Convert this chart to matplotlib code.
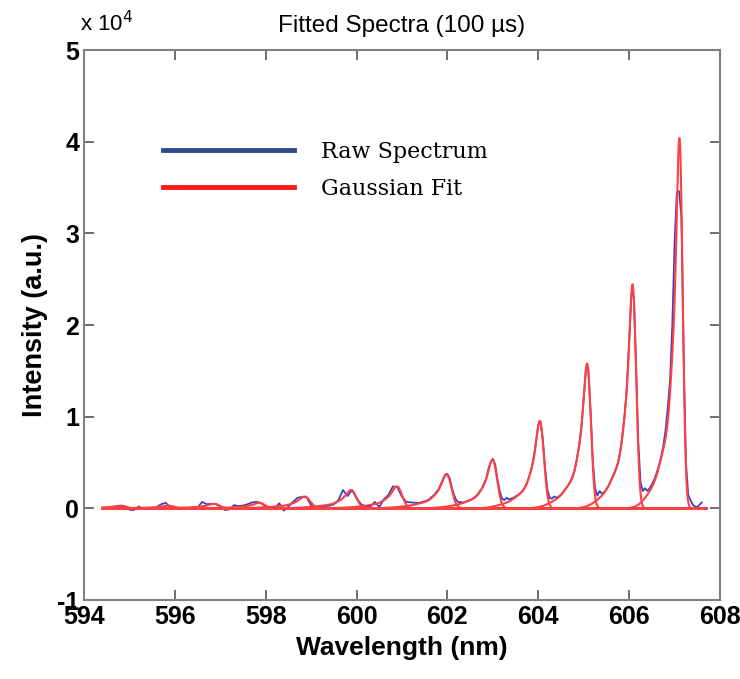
import numpy as np
import matplotlib
matplotlib.use("Agg")
import matplotlib.pyplot as plt
from matplotlib.lines import Line2D

# Gaussian fit: peak positions (nm), heights (counts) and relative widths
peak_centers = [594.82, 595.88, 596.88, 597.88, 598.88, 599.90, 600.91,
                602.00, 603.01, 604.05, 605.09, 606.09, 607.12]
peak_heights = [300, 300, 500, 600, 1300, 2000, 2400,
                3700, 5300, 9550, 15800, 24450, 40400]
peak_widths = [1.6, 1.6, 1.6, 1.6, 1.55, 1.5, 1.45, 1.4, 1.3, 1.15, 1.05, 1.0, 0.9]

# each peak is fitted with four gaussians (offset nm, sigma nm, relative amp)
comp_offsets = [0.0, -0.12, -0.30, -0.55]
comp_sigmas = [0.07, 0.10, 0.16, 0.25]
comp_amps = [0.80, 0.35, 0.134, 0.06]

# raw spectrum (counts), 0.1 nm steps from 594.4 to 601.4
raw_low = [0, 50, 80, 200, 280, 200, -150, -180, 200, -50,
           30, -60, 150, 450, 600, 100, -50, 40, -80, 0,
           150, 80, 700, 450, 500, 480, 200, -180, -120, 350,
           250, 300, 450, 650, 700, 600, 150, 50, 80, 550,
           -250, 200, 700, 1150, 1250, 1200, 300, 150, 250, 250,
           280, 450, 900, 2000, 1350, 2000, 1100, 450, 200, 180,
           700, 150, 1000, 1450, 2400, 2300, 1250, 700, 650, 600,
           620]
# raw spectrum (counts), 0.05 nm steps from 601.45 to 607.6
raw_high = [700, 780, 850, 1000, 1250, 1400, 1750, 2050, 2600, 3150,
            3700, 3750, 3300, 2200, 1400, 850, 650, 700, 600, 750,
            800, 950, 1000, 1250, 1400, 1800, 2100, 2650, 3200, 4250,
            5050, 5400, 4800, 3200, 1900, 1100, 900, 1150, 1000, 1050,
            1150, 1300, 1450, 1650, 1900, 2250, 2800, 3500, 4350, 5600,
            7300, 9100, 9450, 7500, 4400, 2050, 1150, 1050, 1300, 1150,
            1300, 1500, 1800, 2150, 2450, 2900, 3400, 4200, 5450, 6900,
            9000, 12100, 15300, 15200, 10700, 5200, 2200, 1400, 1900, 1600,
            1750, 2100, 2500, 3050, 3550, 4200, 4900, 6100, 7900, 10200,
            13300, 18200, 23400, 23100, 16000, 7300, 2900, 1900, 2200, 1900,
            2200, 2600, 3100, 3800, 4600, 5500, 6800, 8500, 11000, 14000,
            20000, 29000, 34500, 34600, 31800, 16500, 5000, 1500, 900, 400,
            200, 150, 400, 650]

raw_wl = np.concatenate([np.round(594.4 + 0.1 * np.arange(len(raw_low)), 2),
                         np.round(601.45 + 0.05 * np.arange(len(raw_high)), 2)])
raw_int = np.array(raw_low + raw_high, dtype=float)


def peak_profile(x, c, w):
    y = np.zeros_like(x)
    for off, sig, amp in zip(comp_offsets, comp_sigmas, comp_amps):
        y += amp * np.exp(-0.5 * ((x - c - off * w) / (sig * w)) ** 2)
    return y


fit_x = np.linspace(594.4, 607.7, 4000)
ref = np.linspace(-3, 3, 6001)
pmax = peak_profile(ref, 0.0, 1.0).max()

fig = plt.figure(figsize=(7.4, 6.79), dpi=100)
ax = fig.add_axes([0.1135, 0.1163, 0.8595, 0.81])

ax.plot(raw_wl, raw_int, color='#4040c0', lw=1.3, zorder=2)
for c, h, w in zip(peak_centers, peak_heights, peak_widths):
    comp = h * peak_profile(fit_x, c, w) / pmax
    ax.plot(fit_x, comp, color='#ff4040', lw=1.5, zorder=3)

ax.set_xlim(594, 608)
ax.set_ylim(-1e4, 5e4)
ax.set_xticks(np.arange(594, 609, 2))
ax.set_yticks(np.arange(-1, 6) * 1e4)
ax.set_yticklabels([str(i) for i in range(-1, 6)])
ax.tick_params(direction='in', top=True, right=True, length=7, width=1.2, colors='#555555',
               labelcolor='black', labelsize=18)
for lab in ax.get_xticklabels() + ax.get_yticklabels():
    lab.set_fontfamily('Liberation Sans')
    lab.set_fontweight('bold')
for sp in ax.spines.values():
    sp.set_color('#808080')
    sp.set_linewidth(1.5)

ax.set_xlabel("Wavelength (nm)", fontsize=19, family='Liberation Sans', weight='bold', labelpad=5)
ax.set_ylabel("Intensity (a.u.)", fontsize=19.5, family='Liberation Sans', weight='bold', labelpad=6)
ax.set_title("Fitted Spectra (100 \u00b5s)", fontsize=17.5, family='Liberation Sans', pad=13)
ax.text(-0.006, 1.035, r"x 10$^4$", transform=ax.transAxes, fontsize=16, family='Liberation Sans')

# legend drawn with its own handles (thicker, darker lines than the data)
handles = [Line2D([], [], color='#2b4c8c', lw=3.5, label='Raw Spectrum'),
           Line2D([], [], color='#ff1a1a', lw=3.5, label='Gaussian Fit')]
ax.legend(handles=handles, loc='upper left', bbox_to_anchor=(0.124, 0.835), frameon=False,
          borderpad=0, borderaxespad=0, handlelength=5.9, handletextpad=1.2, labelspacing=0.69,
          prop={'family': 'DejaVu Serif', 'size': 16})

plt.savefig("out.png", dpi=100)
